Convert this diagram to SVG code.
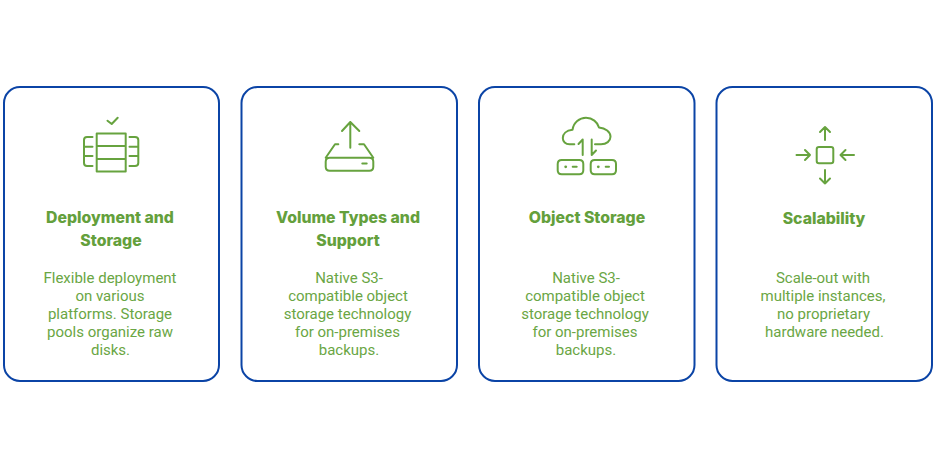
<svg xmlns="http://www.w3.org/2000/svg" width="936" height="468" viewBox="0 0 936 468">
<style>
.card{fill:#fff;stroke:#0b44a6;stroke-width:2}
.ic{fill:none;stroke:#67a33f;stroke-width:2;stroke-linecap:round;stroke-linejoin:round}
.dot{fill:#67a33f}
.t{font-family:"Inter","Liberation Sans",sans-serif;font-weight:800;font-size:15.8px;fill:#64a03c;text-anchor:middle}
.b{font-family:"Roboto","Liberation Sans",sans-serif;font-size:15px;fill:#6aa644;text-anchor:middle}
</style>
<rect width="936" height="468" fill="#fff"/>
<g id="card-1">
<rect class="card" x="4" y="87" width="215" height="294" rx="16"/>
<path class="ic" d="M107.500 120.700L111.700 124L117.700 117.700M96.700 133.500H125.700V171.500H96.700ZM96.700 146H125.700M96.700 159H125.700M92.500 137H87Q84 137 84 140V163Q84 166 87 166H92.500M84 146.700H92.500M84 156H92.500M129.500 137H135Q138.300 137 138.300 140V163Q138.300 166 135 166H129.500M129.500 146.700H138.300M129.500 156H138.300"/>
<text class="t" x="110" y="222.500">Deployment and</text><text class="t" x="111" y="245.500">Storage</text>
<text class="b" x="110" y="283">Flexible deployment</text><text class="b" x="110" y="301">on various</text><text class="b" x="110" y="319">platforms. Storage</text><text class="b" x="110" y="337">pools organize raw</text><text class="b" x="110.500" y="355">disks.</text>
</g>
<g id="card-2">
<rect class="card" x="241.500" y="87" width="215.500" height="294" rx="16"/>
<path class="ic" d="M350.300 147.700V122M342 131L350.300 122L359.300 131M338.300 144.300H335L325.700 157.700M359.300 144.300H364L373.300 157.700M329.700 157.700H369.300Q373.300 157.700 373.300 161.700V166.700Q373.300 170.700 369.300 170.700H329.700Q325.700 170.700 325.700 166.700V161.700Q325.700 157.700 329.700 157.700ZM362.300 163.500H366.700"/>
<text class="t" x="348" y="222.500">Volume Types and</text><text class="t" x="348" y="245.500">Support</text>
<text class="b" x="349" y="283">Native S3-</text><text class="b" x="348" y="301">compatible object</text><text class="b" x="347.500" y="319">storage technology</text><text class="b" x="347.500" y="337">for on-premises</text><text class="b" x="349" y="355">backups.</text>
</g>
<g id="card-3">
<rect class="card" x="479" y="87" width="215.500" height="294" rx="16"/>
<path class="ic" d="M574.300 144.300H569.500C565.500 144.300 562.800 141.500 562.800 138C562.800 134 566 130.500 572.500 129.800C573.500 122.500 579.500 117.800 586 117.800C592.500 117.800 597.500 122 599 127.500C605.500 128 610.500 132 610.500 136.800C610.500 141 606.500 144.300 601 144.300H595M582.700 155V139.500L578.500 144M591.700 139.500V155L596 150.500M561.700 160H579.300Q583.300 160 583.300 164V170.300Q583.300 174.300 579.300 174.300H561.700Q557.700 174.300 557.700 170.300V164Q557.700 160 561.700 160ZM594.700 160H612Q616 160 616 164V170.300Q616 174.300 612 174.300H594.700Q590.700 174.300 590.700 170.300V164Q590.700 160 594.700 160ZM572.700 166.800H576.700M605.700 166.800H609"/>
<circle class="dot" cx="565.700" cy="166.800" r="1.400"/><circle class="dot" cx="598.300" cy="166.800" r="1.400"/>
<text class="t" x="587" y="222.500">Object Storage</text>
<text class="b" x="586" y="283">Native S3-</text><text class="b" x="585" y="301">compatible object</text><text class="b" x="585" y="319">storage technology</text><text class="b" x="585" y="337">for on-premises</text><text class="b" x="586" y="355">backups.</text>
</g>
<g id="card-4">
<rect class="card" x="716.500" y="87" width="215.500" height="294" rx="16"/>
<path class="ic" d="M819 147H831Q833.300 147 833.300 149.300V161Q833.300 163.300 831 163.300H819Q816.700 163.300 816.700 161V149.300Q816.700 147 819 147ZM825 140V127M820 132L825 127L830 132M825 170V183.500M820 178.500L825 183.500L830 178.500M796.500 155H810M805 150L810 155L805 160M854 155H840.500M845.500 150L840.500 155L845.500 160"/>
<text class="t" x="824" y="223.500">Scalability</text>
<text class="b" x="823" y="283">Scale-out with</text><text class="b" x="823" y="301">multiple instances,</text><text class="b" x="823.500" y="319">no proprietary</text><text class="b" x="824.500" y="337">hardware needed.</text>
</g>
</svg>
